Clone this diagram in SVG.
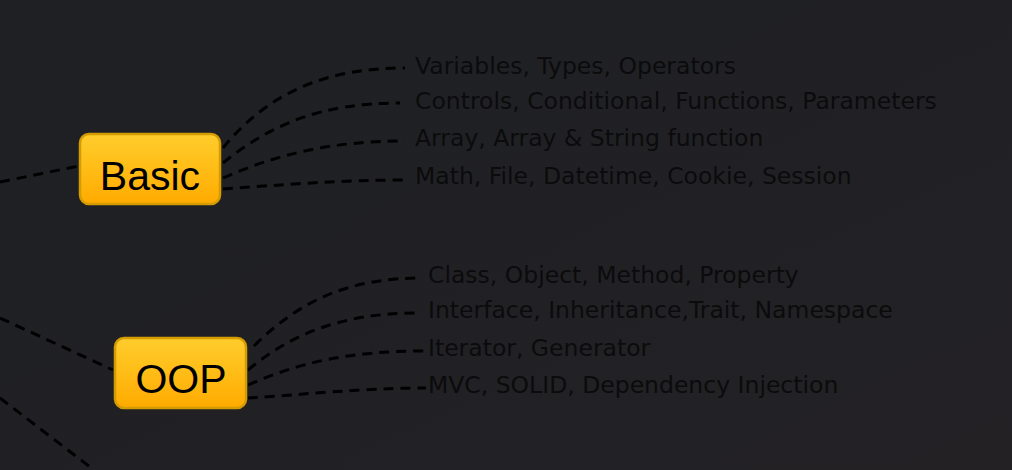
<svg xmlns="http://www.w3.org/2000/svg" width="1012" height="470" viewBox="0 0 1012 470">
  <defs>
    <linearGradient id="bg" x1="0" y1="0" x2="1" y2="1">
      <stop offset="0" stop-color="#1e2024"/>
      <stop offset="1" stop-color="#232124"/>
    </linearGradient>
    <linearGradient id="nodeFill" x1="0" y1="0" x2="0" y2="1">
      <stop offset="0" stop-color="#ffcd2c"/>
      <stop offset="1" stop-color="#ffab00"/>
    </linearGradient>
    <style>
      .edge { fill: none; stroke: #000; stroke-width: 3; stroke-dasharray: 10 7; }
      .box { fill: url(#nodeFill); stroke: #d49c00; stroke-width: 2.5; }
      .title { font-family: "Liberation Sans", Arial, sans-serif; font-size: 41px; fill: #000; text-anchor: middle; }
      .leaf { font-family: "DejaVu Sans", Verdana, sans-serif; font-size: 23.5px; fill: #0b0b0c; }
    </style>
  </defs>

  <rect width="1012" height="470" fill="url(#bg)"/>

  <!-- connectors -->
  <g id="connectors">
    <path class="edge" d="M0 182 L79 166"/>
    <path class="edge" d="M0 318 L113 370"/>
    <path class="edge" d="M0 398 L94 470"/>

    <path class="edge" d="M223 148 C270 90 330 68 405 68"/>
    <path class="edge" d="M223 163 C270 125 320 103 400 103"/>
    <path class="edge" d="M223 178 C275 155 330 141 405 141"/>
    <path class="edge" d="M223 189 C280 185 340 180 405 180"/>

    <path class="edge" d="M254 346 C300 300 350 278 422 278"/>
    <path class="edge" d="M248 370 C290 335 340 313 418 313"/>
    <path class="edge" d="M248 385 C300 362 350 351 426 351"/>
    <path class="edge" d="M248 398 C300 395 360 388 426 388"/>
  </g>

  <!-- topic nodes -->
  <g id="node-basic">
    <rect class="box" x="80" y="134" width="140" height="70" rx="9"/>
    <text class="title" x="150" y="190">Basic</text>
  </g>
  <g id="node-oop">
    <rect class="box" x="115" y="338" width="131" height="70" rx="9"/>
    <text class="title" x="181" y="393">OOP</text>
  </g>

  <!-- Basic subtopics -->
  <g id="leaf-variables"><text class="leaf" x="415" y="74">Variables, Types, Operators</text></g>
  <g id="leaf-controls"><text class="leaf" x="415" y="109">Controls, Conditional, Functions, Parameters</text></g>
  <g id="leaf-array"><text class="leaf" x="415" y="146">Array, Array &amp; String function</text></g>
  <g id="leaf-math"><text class="leaf" x="415" y="184">Math, File, Datetime, Cookie, Session</text></g>

  <!-- OOP subtopics -->
  <g id="leaf-class"><text class="leaf" x="428" y="283">Class, Object, Method, Property</text></g>
  <g id="leaf-interface"><text class="leaf" x="428" y="318">Interface, Inheritance,Trait, Namespace</text></g>
  <g id="leaf-iterator"><text class="leaf" x="428" y="356">Iterator, Generator</text></g>
  <g id="leaf-mvc"><text class="leaf" x="428" y="393">MVC, SOLID, Dependency Injection</text></g>
</svg>
